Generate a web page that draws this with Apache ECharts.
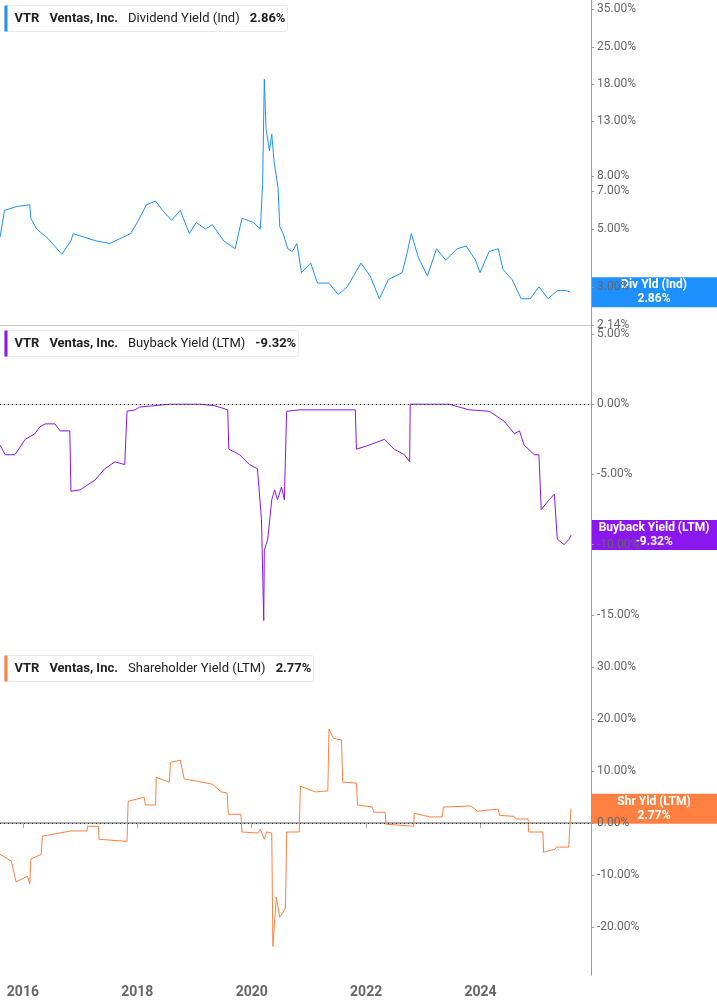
<!DOCTYPE html>
<html>
<head>
<meta charset="utf-8">
<style>
  *{margin:0;padding:0;}
  body{background:#fff;}
  #chart{width:717px;height:1005px;}
</style>
</head>
<body>
<div id="chart"></div>
<script src="https://cdn.jsdelivr.net/npm/echarts@6/dist/echarts.min.js"></script>
<script>
// decimal year, value (%)
var divYield = [[2015.60,4.65],[2015.68,5.9],[2015.89,6.1],[2016.12,6.2],[2016.14,5.5],[2016.24,5.0],[2016.44,4.6],[2016.68,4.0],[2016.84,4.5],[2016.88,4.8],[2017.28,4.5],[2017.52,4.4],[2017.88,4.8],[2018.00,5.3],[2018.16,6.2],[2018.32,6.4],[2018.44,5.9],[2018.60,5.4],[2018.75,5.9],[2018.91,4.8],[2019.03,5.3],[2019.19,5.0],[2019.31,5.2],[2019.51,4.5],[2019.71,4.2],[2019.83,5.5],[2020.03,5.3],[2020.15,5.0],[2020.19,7.4],[2020.22,18.8],[2020.25,12.1],[2020.31,10.0],[2020.35,11.6],[2020.39,9.1],[2020.46,7.2],[2020.49,5.1],[2020.55,4.8],[2020.63,4.2],[2020.71,4.1],[2020.79,4.4],[2020.87,3.4],[2021.03,3.7],[2021.15,3.1],[2021.35,3.1],[2021.51,2.8],[2021.67,3.0],[2021.91,3.7],[2022.07,3.3],[2022.23,2.7],[2022.39,3.2],[2022.63,3.4],[2022.71,4.0],[2022.79,4.8],[2022.91,3.9],[2023.07,3.3],[2023.23,4.2],[2023.39,3.8],[2023.59,4.2],[2023.75,4.3],[2023.91,3.8],[2023.99,3.4],[2024.15,4.1],[2024.31,4.2],[2024.39,3.5],[2024.55,3.2],[2024.71,2.7],[2024.87,2.7],[2025.02,3.0],[2025.18,2.7],[2025.34,2.9],[2025.50,2.9],[2025.57,2.86]];
var buyback = [[2015.60,-2.9],[2015.69,-3.6],[2015.86,-3.6],[2016.04,-2.5],[2016.21,-2.1],[2016.30,-1.6],[2016.39,-1.4],[2016.56,-1.4],[2016.65,-1.9],[2016.82,-1.9],[2016.84,-6.2],[2017.00,-6.1],[2017.26,-5.4],[2017.43,-4.6],[2017.61,-4.1],[2017.78,-4.3],[2017.82,-0.5],[2017.96,-0.4],[2018.04,-0.2],[2018.57,0],[2019.09,0],[2019.35,-0.1],[2019.58,-0.4],[2019.60,-3.2],[2019.79,-3.6],[2019.96,-4.3],[2020.10,-4.6],[2020.17,-8.2],[2020.21,-15.4],[2020.22,-10.4],[2020.28,-9.6],[2020.35,-6.8],[2020.40,-6.1],[2020.45,-6.8],[2020.52,-5.9],[2020.57,-6.8],[2020.61,-0.5],[2020.84,-0.4],[2021.81,-0.4],[2021.83,-3.2],[2022.06,-2.9],[2022.32,-2.5],[2022.49,-3.2],[2022.67,-3.6],[2022.76,-4.1],[2022.77,0],[2023.45,0],[2023.80,-0.4],[2024.15,-0.5],[2024.41,-1.2],[2024.59,-2.1],[2024.68,-1.9],[2024.76,-2.9],[2024.94,-3.6],[2025.02,-3.6],[2025.06,-7.5],[2025.20,-6.8],[2025.29,-6.4],[2025.34,-9.6],[2025.46,-10.0],[2025.55,-9.6],[2025.58,-9.32]];
var shrYield = [[2015.60,-6.0],[2015.80,-7.3],[2015.88,-11.3],[2016.08,-10.2],[2016.12,-11.7],[2016.14,-6.9],[2016.32,-6.0],[2016.34,-2.5],[2016.84,-1.5],[2017.12,-1.5],[2017.13,-0.6],[2017.32,-0.6],[2017.33,-3.1],[2017.82,-3.5],[2017.84,4.2],[2018.12,5.0],[2018.14,3.5],[2018.32,3.5],[2018.33,8.8],[2018.56,7.9],[2018.58,11.7],[2018.75,12.1],[2018.82,8.5],[2019.03,8.1],[2019.31,7.5],[2019.47,6.0],[2019.57,5.8],[2019.59,1.7],[2019.81,1.7],[2019.83,-1.7],[2020.11,-1.9],[2020.15,-1.2],[2020.22,-3.1],[2020.26,-1.7],[2020.35,-1.9],[2020.37,-23.7],[2020.43,-14.2],[2020.49,-18.1],[2020.55,-17.1],[2020.59,-16.3],[2020.61,-1.7],[2020.83,-1.7],[2020.85,7.1],[2021.11,6.0],[2021.33,6.2],[2021.35,18.1],[2021.43,16.3],[2021.57,16.0],[2021.59,7.9],[2021.83,7.7],[2021.85,3.5],[2022.11,3.1],[2022.13,2.1],[2022.33,2.1],[2022.35,-0.2],[2022.83,-0.6],[2022.84,1.9],[2023.11,1.2],[2023.33,1.2],[2023.35,3.1],[2023.83,3.3],[2023.95,2.3],[2024.31,2.7],[2024.33,1.5],[2024.59,1.3],[2024.61,0.8],[2024.83,0.8],[2024.84,-1.7],[2025.09,-1.7],[2025.10,-5.6],[2025.30,-5.0],[2025.33,-4.6],[2025.54,-4.6],[2025.58,2.77]];

var yearTicks = [2016, 2018, 2020, 2022, 2024];
var divTicks = [2.14, 3, 5, 7, 8, 13, 18, 25, 35];
var buyTicks = [5, 0, -5, -10, -15];
var shrTicks = [30, 20, 10, 0, -10, -20];

var blue = '#1e90ff', purple = '#8a16f0', orange = '#ff8040';
var font = 'Roboto, sans-serif';

var chart = echarts.init(document.getElementById('chart'));

function xAx(i, last) {
  return {
    type: 'value', gridIndex: i, min: 2015.6, max: 2025.93,
    axisLine: {show: true, lineStyle: {color: last ? '#aaa' : '#ccc', width: last ? 2 : 1}},
    axisTick: {show: last, customValues: yearTicks, length: 5, lineStyle: {color: '#aaa'}},
    axisLabel: {show: last, customValues: yearTicks, color: '#666', fontSize: 14, fontWeight: 'bold', fontFamily: font, margin: 10,
      formatter: function (v) { return String(v); }},
    splitLine: {show: false}
  };
}
function yAx(i, type, min, max, ticks) {
  var o = {
    type: type, gridIndex: i, position: 'right', min: min, max: max,
    axisLine: {show: true, lineStyle: {color: '#999'}},
    axisTick: {show: true, customValues: ticks, length: 3, lineStyle: {color: '#999'}},
    axisLabel: {customValues: ticks, color: '#666', fontSize: 12, fontFamily: font, margin: 6,
      formatter: function (v) { return v.toFixed(2) + '%'; }},
    splitLine: {show: false}
  };
  if (type === 'log') o.logBase = 10;
  return o;
}
function zeroLine() {
  return {silent: true, symbol: 'none', label: {show: false},
    lineStyle: {color: '#333', type: [1, 3], width: 1}, data: [{yAxis: 0}]};
}

chart.setOption({
  animation: false,
  grid: [
    {left: 0, right: 126, top: 0, height: 325},
    {left: 0, right: 126, top: 325, height: 325},
    {left: 0, right: 126, top: 650, height: 325}
  ],
  xAxis: [xAx(0, false), xAx(1, false), xAx(2, true)],
  yAxis: [
    yAx(0, 'log', 2.14, 37.9, divTicks),
    yAx(1, 'value', -17.5, 5.64, buyTicks),
    yAx(2, 'value', -29.2, 33.3, shrTicks)
  ],
  series: [
    {type: 'line', xAxisIndex: 0, yAxisIndex: 0, data: divYield, showSymbol: false, lineStyle: {color: blue, width: 1}},
    {type: 'line', xAxisIndex: 1, yAxisIndex: 1, data: buyback, showSymbol: false, lineStyle: {color: purple, width: 1}, markLine: zeroLine()},
    {type: 'line', xAxisIndex: 2, yAxisIndex: 2, data: shrYield, showSymbol: false, lineStyle: {color: orange, width: 1}, markLine: zeroLine()}
  ]
});

// legend boxes and end tags
function legendBox(y, w, color, name, val) {
  return {
    type: 'group', left: 4, top: y,
    children: [
      {type: 'rect', shape: {x: 0, y: 0, width: w, height: 26, r: 2}, style: {fill: '#fff', stroke: '#e8e8e8'}},
      {type: 'rect', shape: {x: 0, y: 0, width: 3, height: 26}, style: {fill: color}},
      {type: 'text', x: 10, y: 7, style: {text: '{b|VTR}   {b|Ventas, Inc.}   {n|' + name + '}   {b|' + val + '}',
        rich: {b: {fontWeight: 'bold', fontSize: 13, fill: '#222', fontFamily: font},
               n: {fontSize: 13, fill: '#222', fontFamily: font}}}}
    ]
  };
}
function tag(gi, series, color, label, val) {
  var last = series[series.length - 1];
  var y = chart.convertToPixel({gridIndex: gi}, last)[1];
  return {
    type: 'group', left: 591, top: y - 15, z: 100,
    children: [
      {type: 'rect', shape: {x: 0, y: 0, width: 126, height: 30}, style: {fill: color}},
      {type: 'text', x: 63, y: 15, style: {text: label + '\n' + val, fill: '#fff', fontWeight: 'bold', fontSize: 12,
        fontFamily: font, align: 'center', verticalAlign: 'middle', lineHeight: 14}}
    ]
  };
}
chart.setOption({
  graphic: [
    legendBox(5, 283, blue, 'Dividend Yield (Ind)', '2.86%'),
    legendBox(330, 294, purple, 'Buyback Yield (LTM)', '-9.32%'),
    legendBox(655, 309, orange, 'Shareholder Yield (LTM)', '2.77%'),
    tag(0, divYield, blue, 'Div Yld (Ind)', '2.86%'),
    tag(1, buyback, purple, 'Buyback Yield (LTM)', '-9.32%'),
    tag(2, shrYield, orange, 'Shr Yld (LTM)', '2.77%')
  ]
});
</script>
</body>
</html>
